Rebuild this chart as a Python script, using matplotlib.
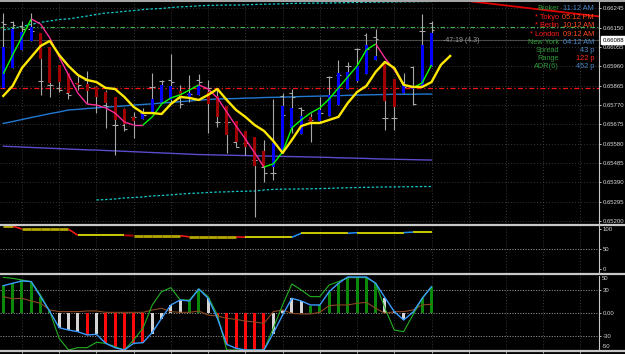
import numpy as np
import matplotlib
matplotlib.use('Agg')
import matplotlib.pyplot as plt
from matplotlib.collections import LineCollection
from matplotlib.lines import Line2D
from matplotlib.transforms import blended_transform_factory

plt.rcParams['font.family'] = ['Liberation Sans', 'DejaVu Sans']

# ---------------- data ----------------
bar_high = [0.66224, 0.66183, 0.66183, 0.66222, 0.66124, 0.66055, 0.65967, 0.65928, 0.65918, 0.65937,
            0.65864, 0.65844, 0.65810, 0.65756, 0.65736, 0.65756, 0.65928, 0.65893, 0.66021, 0.65869,
            0.65918, 0.65923, 0.65893, 0.65854, 0.65766, 0.65692, 0.65643, 0.65613, 0.65599, 0.65800,
            0.65829, 0.65849, 0.65761, 0.65731, 0.65810, 0.65913, 0.65991, 0.65982, 0.66050, 0.66124,
            0.66144, 0.65977, 0.65898, 0.65928, 0.65962, 0.66217, 0.66183]
bar_low = [0.65854, 0.65952, 0.66041, 0.66085, 0.65820, 0.65810, 0.65834, 0.65800, 0.65844, 0.65780,
           0.65731, 0.65658, 0.65525, 0.65643, 0.65608, 0.65702, 0.65731, 0.65785, 0.65780, 0.65756,
           0.65785, 0.65820, 0.65633, 0.65662, 0.65535, 0.65564, 0.65525, 0.65221, 0.65392, 0.65402,
           0.65535, 0.65633, 0.65628, 0.65589, 0.65682, 0.65716, 0.65770, 0.65849, 0.65883, 0.65923,
           0.65991, 0.65648, 0.65648, 0.65829, 0.65770, 0.65859, 0.65962]
bar_open_tick = [0.66178, 0.66178, 0.66158, 0.66144, 0.65888, 0.65869, 0.65854, 0.65829, 0.65879, 0.65893,
                 0.65859, 0.65770, 0.65672, 0.65672, 0.65712, 0.65731, 0.65859, 0.65888, 0.65893, 0.65805,
                 0.65824, 0.65893, 0.65854, 0.65687, 0.65687, 0.65589, 0.65584, 0.65500, 0.65466, 0.65437,
                 0.65815, 0.65829, 0.65756, 0.65697, 0.65731, 0.65908, 0.65918, 0.65962, 0.66045, 0.66114,
                 0.66104, 0.65707, 0.65707, 0.65883, 0.65957, 0.66134, 0.66173]
bar_close_tick = [0.66168, 0.66163, 0.66144, 0.66134, 0.65888, 0.65869, 0.65844, 0.65820, 0.65869, 0.65859,
                  0.65770, 0.65766, 0.65672, 0.65653, 0.65712, 0.65721, 0.65859, 0.65888, 0.65883, 0.65775,
                  0.65824, 0.65883, 0.65854, 0.65687, 0.65687, 0.65564, 0.65584, 0.65500, 0.65437, 0.65437,
                  0.65721, 0.65810, 0.65746, 0.65697, 0.65731, 0.65908, 0.65918, 0.65962, 0.66045, 0.66045,
                  0.66095, 0.65707, 0.65707, 0.65859, 0.65775, 0.66134, 0.66139]
body_open = [0.65854, 0.65952, 0.66041, 0.66085, 0.66124, 0.66055, 0.65967, 0.65928, 0.65879, 0.65874,
             0.65859, 0.65834, 0.65810, 0.65751, 0.65712, 0.65702, 0.65731, 0.65785, 0.65795, 0.65839,
             0.65810, 0.65820, 0.65834, 0.65815, 0.65766, 0.65692, 0.65643, 0.65613, 0.65545, 0.65466,
             0.65535, 0.65658, 0.65628, 0.65712, 0.65692, 0.65716, 0.65770, 0.65849, 0.65888, 0.65923,
             0.65991, 0.65972, 0.65898, 0.65829, 0.65849, 0.65859, 0.65962]
body_close = [0.66055, 0.66144, 0.66129, 0.66153, 0.65996, 0.65879, 0.65883, 0.65829, 0.65869, 0.65839,
              0.65810, 0.65780, 0.65697, 0.65677, 0.65692, 0.65731, 0.65800, 0.65869, 0.65864, 0.65810,
              0.65829, 0.65869, 0.65775, 0.65712, 0.65623, 0.65589, 0.65564, 0.65471, 0.65466, 0.65584,
              0.65766, 0.65756, 0.65716, 0.65687, 0.65746, 0.65820, 0.65928, 0.65933, 0.65962, 0.66065,
              0.66011, 0.65790, 0.65761, 0.65869, 0.65859, 0.66065, 0.66124]

ma_yellow = [0.65815, 0.65864, 0.65952, 0.66006, 0.66060, 0.66085, 0.66016, 0.65962, 0.65918, 0.65893,
             0.65883, 0.65854, 0.65849, 0.65810, 0.65761, 0.65731, 0.65731, 0.65726, 0.65775, 0.65810,
             0.65805, 0.65795, 0.65820, 0.65849, 0.65795, 0.65746, 0.65712, 0.65672, 0.65643, 0.65594,
             0.65535, 0.65599, 0.65667, 0.65682, 0.65682, 0.65697, 0.65712, 0.65780, 0.65834, 0.65864,
             0.65933, 0.65982, 0.65952, 0.65869, 0.65859, 0.65859, 0.65883, 0.65967, 0.66011]
ma_fast = [0.65923, 0.66016, 0.66104, 0.66193, 0.66168, 0.66099, 0.66006, 0.65918, 0.65829, 0.65775,
           0.65770, 0.65756, 0.65731, 0.65687, 0.65672, 0.65672, 0.65712, 0.65775, 0.65805, 0.65820,
           0.65844, 0.65869, 0.65849, 0.65805, 0.65736, 0.65667, 0.65604, 0.65535, 0.65466, 0.65481,
           0.65540, 0.65658, 0.65697, 0.65731, 0.65756, 0.65800, 0.65854, 0.65908, 0.65962, 0.66041,
           0.66070, 0.66001, 0.65942, 0.65869, 0.65854, 0.65879, 0.65967]
ma_blue = [0.65680, 0.65689, 0.65699, 0.65709, 0.65718, 0.65728, 0.65736, 0.65746, 0.65749, 0.65753,
           0.65756, 0.65760, 0.65763, 0.65766, 0.65770, 0.65773, 0.65776, 0.65780, 0.65783, 0.65787,
           0.65790, 0.65794, 0.65797, 0.65800, 0.65801, 0.65802, 0.65804, 0.65805, 0.65807, 0.65808,
           0.65809, 0.65810, 0.65812, 0.65813, 0.65814, 0.65815, 0.65816, 0.65818, 0.65819, 0.65820,
           0.65821, 0.65822, 0.65823, 0.65823, 0.65823, 0.65824, 0.65824]
ma_purple = [0.65568, 0.65566, 0.65564, 0.65562, 0.65560, 0.65558, 0.65556, 0.65554, 0.65552, 0.65550,
             0.65549, 0.65547, 0.65545, 0.65543, 0.65541, 0.65539, 0.65537, 0.65535, 0.65533, 0.65531,
             0.65529, 0.65527, 0.65526, 0.65525, 0.65524, 0.65523, 0.65522, 0.65521, 0.65520, 0.65519,
             0.65518, 0.65517, 0.65516, 0.65515, 0.65514, 0.65513, 0.65511, 0.65510, 0.65509, 0.65508,
             0.65506, 0.65505, 0.65504, 0.65503, 0.65502, 0.65501, 0.65500]
band_upper = [0.66139, 0.66146, 0.66156, 0.66166, 0.66176, 0.66183, 0.66190, 0.66193, 0.66200, 0.66207,
              0.66215, 0.66222, 0.66225, 0.66230, 0.66234, 0.66239, 0.66242, 0.66244, 0.66249, 0.66252,
              0.66254, 0.66257, 0.66259, 0.66260, 0.66261, 0.66261, 0.66262, 0.66264, 0.66265, 0.66266,
              0.66267, 0.66269, 0.66270, 0.66270, 0.66271, 0.66271, 0.66272, 0.66273, 0.66274, 0.66275,
              0.66275, 0.66276, 0.66276, 0.66277, 0.66277, 0.66278, 0.66278]
band_lower_start = 10
band_lower = [0.65304, 0.65306, 0.65309, 0.65314, 0.65316, 0.65319, 0.65324, 0.65326, 0.65329, 0.65333,
              0.65336, 0.65338, 0.65341, 0.65343, 0.65344, 0.65346, 0.65347, 0.65348, 0.65353, 0.65356,
              0.65357, 0.65358, 0.65358, 0.65359, 0.65360, 0.65361, 0.65363, 0.65364, 0.65365, 0.65366,
              0.65367, 0.65368, 0.65368, 0.65369, 0.65369, 0.65370, 0.65370]
level_green = 0.66152
level_red = 0.65852
bid_price = 0.66088
trend_idx = [49.9, 64.0]
trend_price = [0.66281, 0.66205]
price_ticks = [0.66245, 0.66150, 0.66055, 0.65960, 0.65865, 0.65770,
               0.65675, 0.65580, 0.65485, 0.65390, 0.65295, 0.65200]

# panel 2 (trend strength line)
strength = [108, 108, 100, 100, 100, 100, 100, 100, 84.5, 84.5, 84.5, 84.5, 84.5, 84.5,
            83.5, 83.5, 83.5, 83.5, 83.5, 83.5, 80.5, 80.5, 80.5, 80.5, 80.5, 80.5,
            79.5, 79.5, 79.5, 79.5, 79.5, 79.5, 89.5, 89.5, 89.5, 89.5, 89.5, 89.5,
            91.3, 91.3, 91.3, 91.3, 91.3, 91.3, 92.5, 92.5, 92.5]
strength_state = ['O', 'R', 'O', 'O', 'O', 'O', 'O', 'R', 'Y', 'Y', 'Y', 'Y', 'Y', 'D',
                  'O', 'O', 'O', 'O', 'O', 'R', 'O', 'O', 'O', 'O', 'O', 'R',
                  'Y', 'Y', 'Y', 'Y', 'Y', 'B', 'Y', 'Y', 'Y', 'Y', 'Y', 'B',
                  'Y', 'Y', 'Y', 'Y', 'Y', 'B', 'Y', 'Y']

# panel 3 (oscillator)
osc_hist = [37.3, 39.6, 44, 41.8, 21.8, 3, -19.5, -22.7, -25, -29.3, -28.4, -40.4, -46.2, -49.3,
            -40, -39.6, -28, -8, 10.7, 17.3, 16, 32, 19.6, -7, -41.8, -48, -49, -49, -49, -28.4,
            4, 19.6, 16, 9, 10.7, 28.4, 39.6, 47, 47, 47, 39.6, 20.4, 2, -9.3, 1, 19.6, 35]
osc_state = ['G', 'G', 'G', 'G', 'G', 'G', 'W', 'W', 'W', 'R', 'W', 'R', 'R', 'R', 'R', 'R',
             'W', 'W', 'W', 'W', 'G', 'G', 'W', 'R', 'R', 'R', 'R', 'R', 'R', 'W', 'W', 'W',
             'W', 'G', 'G', 'G', 'G', 'G', 'G', 'G', 'G', 'W', 'W', 'W', 'G', 'G', 'G']
osc_blue = [36.4, 39.6, 42.7, 41.8, 21.8, 1.8, -19.6, -22.7, -24.9, -29.3, -28.4, -40.4, -46.2, -49.3,
            -40.4, -39.6, -26, -7, 10.7, 17.3, 16, 32, 19.6, -7, -41.8, -47, -49.3, -49.3, -49.3, -27,
            -2.7, 19.6, 16, 10.7, 10.7, 28.4, 39.6, 48, 48, 48, 39.6, 20.4, 1.8, -9.3, 0.9, 19.6, 35]
osc_green = [47.5, 46.2, 44, 41.8, 24, 1.8, -33.8, -49.3, -46.2, -46.2, -39.1, -40.4, -44.9, -49.3,
             -36, -20.4, 10.7, 28.4, 33.8, 17.3, 17.3, 32, 21.8, -2.7, -49.3, -49.3, -49.3, -49.3, -49.3,
             -20.4, 10.7, 38.7, 30.7, 21.8, 21.8, 37.3, 41.8, 47.1, 47.1, 47.1, 39.6, 6.2, -22.7, -24.9,
             -2.7, 19.6, 35.1]
osc_brown = [21.8, 19, 19.6, 16, 12.9, 4, 1.8, 1.8, 1.8, 2.7, 2.7, 0.9, 0.9, 0.9, 0.9, 0.9, 4, 6.2,
             1.8, 0.9, 0.9, 2.7, -2.7, -4, -7.1, -8.5, -10.7, -12, -13.8, 1.8, 4, -0.4, -1.3, -1.3,
             0.9, 9.8, 10.7, 10.7, 12.9, 14.2, 6.2, -0.4, 1.8, 1.8, 4, 10.7, 11.6]

info_labels = ['Broker', '* Tokyo', '* Berlin', '* London', 'New York', 'Spread', 'Range', 'ADR(6)']
info_values = ['11:12 AM', '05:12 PM', '10:12 AM', '09:12 AM', '04:12 AM', '43 p', '122 p', '452 p']
info_label_colors = ['#2e9a3a', '#ff1a1a', '#ff1a1a', '#ff1a1a', '#2e9a3a', '#2e9a3a', '#2e9a3a', '#2e9a3a']
info_value_colors = ['#4a86c8', '#ff4a1a', '#ff4a1a', '#ff4a1a', '#4a86c8', '#4a86c8', '#ff2a1a', '#4a86c8']
timer_text = '-47:19 (4.3)'

# ---------------- layout ----------------
W, H = 625, 354
fig = plt.figure(figsize=(W / 100, H / 100), dpi=100, facecolor='black')

def fy(px):
    return 1 - px / H

xr = 599 / W
ax1 = fig.add_axes([0, fy(223), xr, (223 - 2) / H])
ax2 = fig.add_axes([0, fy(273), xr, (273 - 226) / H])
ax3 = fig.add_axes([0, fy(350), xr, (350 - 276) / H])

xlim = (-0.355, 63.99)
grid_idx = np.arange(2, 64, 4)
label_col = '#d8d8d8'

for ax in (ax1, ax2, ax3):
    ax.set_facecolor('black')
    ax.set_xlim(*xlim)
    for s in ('top', 'left', 'bottom'):
        ax.spines[s].set_visible(False)
    ax.spines['right'].set_color('#c8c8c8')
    ax.spines['right'].set_linewidth(0.8)
    ax.yaxis.tick_right()
    ax.tick_params(axis='y', colors=label_col, labelsize=4.3, length=1.6, width=0.6, pad=0.8)
    ax.tick_params(axis='x', bottom=False, labelbottom=False)
    for g in grid_idx:
        ax.axvline(g, color='#4a4a4a', lw=0.6, ls=(0, (1, 2.5)), zorder=0)

n = len(bar_high)
idx = np.arange(n)

# main panel
ax1.set_ylim(0.65191, 0.66276)
ax1.set_yticks(price_ticks)
ax1.set_yticklabels([f'{p:.5f}' for p in price_ticks])
for p in price_ticks:
    ax1.axhline(p, color='#4a4a4a', lw=0.6, ls=(0, (1, 2.5)), zorder=0)

ax1.plot(idx, ma_purple, color='#5a4ccc', lw=1.0, zorder=2)
ax1.plot(idx, ma_blue, color='#2278d2', lw=1.0, zorder=2)
ax1.plot(idx, band_upper, color='#12c8c8', lw=0.9, ls=(0, (2, 1.5)), zorder=2)
ax1.plot(np.arange(band_lower_start, band_lower_start + len(band_lower)), band_lower,
         color='#12c8c8', lw=0.9, ls=(0, (2, 1.5)), zorder=2)
ax1.axhline(level_green, color='#3cb44b', lw=0.8, ls=(0, (4, 2, 1, 2)), zorder=2)
ax1.axhline(level_red, color='#ff1010', lw=0.9, ls=(0, (4, 2, 1, 2)), zorder=2)
ax1.axhline(bid_price, color='#4a4a4a', lw=0.8, zorder=1)
ax1.plot(trend_idx, trend_price, color='#e00000', lw=1.3, zorder=2)

# OHLC gray bars
ax1.vlines(idx, bar_low, bar_high, color='#a8a8a8', lw=0.8, zorder=3)
ax1.hlines(bar_open_tick, idx - 0.3, idx, color='#a8a8a8', lw=0.8, zorder=3)
ax1.hlines(bar_close_tick, idx, idx + 0.3, color='#a8a8a8', lw=0.8, zorder=3)
# colored bodies
bo = np.array(body_open)
bc = np.array(body_close)
bottoms = np.minimum(bo, bc)
heights = np.maximum(np.abs(bc - bo), 0.00002)
colors = ['#0000ff' if c >= o else '#a00000' for o, c in zip(bo, bc)]
ax1.bar(idx, heights, bottom=bottoms, width=0.32, color=colors, linewidth=0, zorder=4)

# fast MA green/magenta
pts = np.column_stack([idx, ma_fast])
segs = np.stack([pts[:-1], pts[1:]], axis=1)
seg_cols = ['#00ff00' if ma_fast[i + 1] > ma_fast[i] else '#ff2a9a' for i in range(n - 1)]
ax1.add_collection(LineCollection(segs, colors=seg_cols, linewidths=1.0, zorder=5))
# slow yellow MA (shifted)
ax1.plot(np.arange(len(ma_yellow)), ma_yellow, color='#ffe800', lw=1.7, zorder=6,
         solid_joinstyle='round')

# panel 2
ax2.set_ylim(-10.5, 107.9)
ax2.set_yticks([100, 50, 0])
ax2.set_yticklabels(['100', '50', '0'])
ax2.axhline(50, color='#8c8c8c', lw=0.7, ls=(0, (1.2, 1.5)), zorder=0)
state_col = {'O': '#b4a800', 'Y': '#ffff00', 'R': '#ff1a1a', 'D': '#b00000', 'B': '#1e90ff'}
state_lw = {'O': 2.0, 'Y': 1.1, 'R': 1.1, 'D': 1.4, 'B': 1.1}
pts2 = np.column_stack([idx, strength])
segs2 = np.stack([pts2[:-1], pts2[1:]], axis=1)
ax2.add_collection(LineCollection(segs2, colors=[state_col[s] for s in strength_state],
                                  linewidths=[state_lw[s] for s in strength_state], zorder=3))

# panel 3
ax3.set_ylim(-49.3, 49.3)
ax3.set_yticks([30, 0, -30])
ax3.set_yticklabels(['30', '0.00', '-30'])
trans3 = blended_transform_factory(ax3.transAxes, ax3.transData)
ax3.text(1.005, 46.3, '50', transform=trans3, color=label_col, fontsize=4.3, va='center', ha='left')
ax3.text(1.005, -45.0, '-50', transform=trans3, color=label_col, fontsize=4.3, va='center', ha='left')
for lv in (30, 0, -30):
    ax3.axhline(lv, color='#8c8c8c', lw=0.7, ls=(0, (1.2, 1.5)), zorder=0)
hist_col = {'G': '#0a8a0a', 'W': '#d4d4d4', 'R': '#ff0a0a'}
ax3.bar(idx, osc_hist, width=0.32, color=[hist_col[s] for s in osc_state], linewidth=0, zorder=2)
ax3.plot(idx, osc_brown, color='#8b4a20', lw=0.8, zorder=3)
ax3.plot(idx, osc_green, color='#22b022', lw=0.8, zorder=4)
ax3.plot(idx, osc_blue, color='#3a9cff', lw=1.0, zorder=5)
ax3.set_xticks(grid_idx)
ax3.tick_params(axis='x', bottom=True, length=2, width=0.6, color='#c8c8c8', direction='out')

# panel separators / frame
for ypx, lw in ((1.3, 1.2), (224.8, 1.6), (274.3, 1.6), (351.0, 1.6)):
    fig.add_artist(Line2D([0, 1], [fy(ypx), fy(ypx)], color='#c8c8c8', lw=lw, transform=fig.transFigure))

# info table
rows_y = [9, 17.3, 25.7, 34, 42.3, 50.7, 59, 66.7]
for lab, val, lc, vc, yy in zip(info_labels, info_values, info_label_colors, info_value_colors, rows_y):
    fig.text(559 / W, fy(yy), lab, color=lc, fontsize=5.3, ha='right', va='center')
    fig.text(594 / W, fy(yy), val, color=vc, fontsize=5.3, ha='right', va='center')
fig.text(443 / W, fy(40), timer_text, color='#9a9a9a', fontsize=5.0, ha='left', va='center')

# bid price box on the axis
transb = blended_transform_factory(ax1.transAxes, ax1.transData)
ax1.text(1.006, bid_price, f'{bid_price:.5f}', transform=transb, color='black', fontsize=4.3,
         ha='left', va='center', zorder=10,
         bbox=dict(boxstyle='square,pad=0.25', facecolor='white', edgecolor='white'))

fig.savefig('out.png', dpi=100, facecolor='black')
